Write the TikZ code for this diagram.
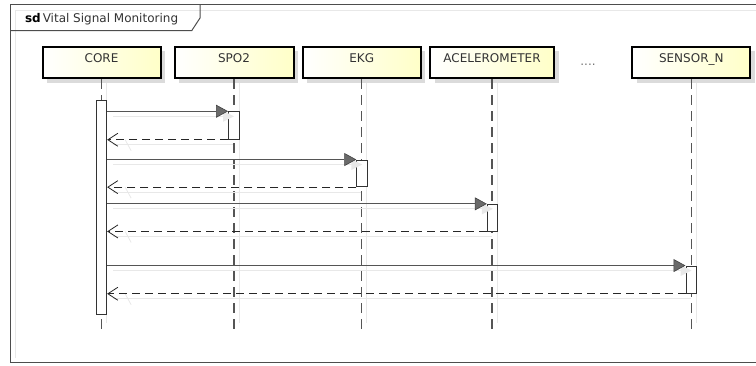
\documentclass[tikz,border=0pt]{standalone}
\usepackage{fontspec}
\setmainfont{DejaVu Sans}
\usetikzlibrary{arrows.meta,shadows,calc}
\definecolor{framec}{HTML}{4D4D4D}
\definecolor{linec}{HTML}{555555}
\definecolor{txtc}{HTML}{333333}
\definecolor{shadowc}{HTML}{E8E8E8}
\definecolor{boxy}{HTML}{FFFFC8}
\definecolor{tipc}{HTML}{6A6A6A}
\begin{document}
\begin{tikzpicture}[x=1pt,y=-1pt,
  every node/.style={font=\fontsize{12}{14}\selectfont, text=txtc},
  lifebox/.style={draw=black, line width=2pt, left color=white, right color=boxy,
    minimum height=31.5pt, inner sep=0pt, text height=15.5pt, text depth=16pt,
    drop shadow={shadow xshift=4.5pt, shadow yshift=-4.5pt, fill=black!14, opacity=1}},
  lifeline/.style={draw=linec, line width=1.2pt, dash pattern=on 10pt off 6pt},
  shadeline/.style={draw=shadowc, line width=1pt},
  act/.style={draw=black!80, fill=white, line width=0.9pt, minimum width=10.5pt, inner sep=0pt},
  msg/.style={draw=linec, line width=1pt,
    -{Triangle[length=12pt,width=13pt,fill=tipc,color=black!75,line width=0.6pt]}},
  ret/.style={draw=black!85, line width=1pt, dash pattern=on 8pt off 5pt,
    -{Straight Barb[length=10pt,width=13pt,line width=0.8pt]}},
  framel/.style={draw=framec, line width=1pt}
]
\useasboundingbox (0,0) rectangle (756,365);
% frame
\draw[shadowc, line width=1pt] (15,10) -- (757,10);
\draw[shadowc, line width=1pt] (15,10) -- (15,358);
\draw[framel] (757,4.7) -- (10.5,4.7) -- (10.5,362.5) -- (757,362.5);
\draw[framel] (200,4.7) -- (200,18) -- (191.7,30.7) -- (10.5,30.7);
\node[anchor=base west, text=black] (title) at (21.5,22.5) {\textbf{sd}\,\textcolor{txtc}{Vital Signal Monitoring}};

% lifeline heads
\node[lifebox, minimum width=118pt] (core) at (101.5,62.7) {CORE};
\node[lifebox, minimum width=119pt] (spo) at (234,62.7) {SPO2};
\node[lifebox, minimum width=118pt] (ekg) at (361.7,62.7) {EKG};
\node[lifebox, minimum width=124pt] (acc) at (492,62.7) {ACELEROMETER};
\node[lifebox, minimum width=118pt] (sen) at (691.3,62.7) {SENSOR\_N};
\node[anchor=base, text=black!55] (dots) at (588,65) {....};

\coordinate (lend) at (0,330);
\coordinate (send) at (0,323);

% lifeline shadows
\foreach \n in {core,spo,ekg,acc,sen}{
  \draw[shadeline] ($(\n.south)+(5,4)$) -- ($(\n.south |- send)+(5,0)$);
}
% lifelines
\foreach \n in {core,spo,ekg,acc,sen}{
  \draw[lifeline] (\n.south) -- (\n.south |- lend);
}

% activations
\node[act, minimum height=213.3pt, minimum width=10pt] (ca) at (101.7,207.35) {};
\node[act, minimum height=27.6pt] (a1) at (233.7,125.5) {};
\node[act, minimum height=26.7pt] (a2) at (362,173.35) {};
\node[act, minimum height=26.7pt] (a3) at (492.5,217.65) {};
\node[act, minimum height=27.3pt] (a4) at (691.2,279.65) {};

% message shadows
\foreach \a in {a1,a2,a3,a4}{
  \draw[shadeline] ($(ca.east |- \a.north west)+(6,5)$) -- ($(\a.north west)+(0,5)$);
  \fill[shadowc] ($(\a.north west)+(6,5)$) -- ($(\a.north west)+(-5,-0.5)$) -- ($(\a.north west)+(-5,10.5)$) -- cycle;
  \draw[shadeline] ($(ca.east |- \a.south west)+(6,5)$) -- ($(\a.south west)+(5,5)$);
  \draw[shadowc, line width=0.8pt] ($(ca.east |- \a.south west)+(18,0)$) -- ($(ca.east |- \a.south west)+(24,11)$);
}
\foreach \a in {a1,a2,a3,a4}{
  \draw[msg] (ca.east |- \a.north west) -- (\a.north west);
  \draw[ret] (\a.south west) -- (ca.east |- \a.south west);
}
\end{tikzpicture}
\end{document}
